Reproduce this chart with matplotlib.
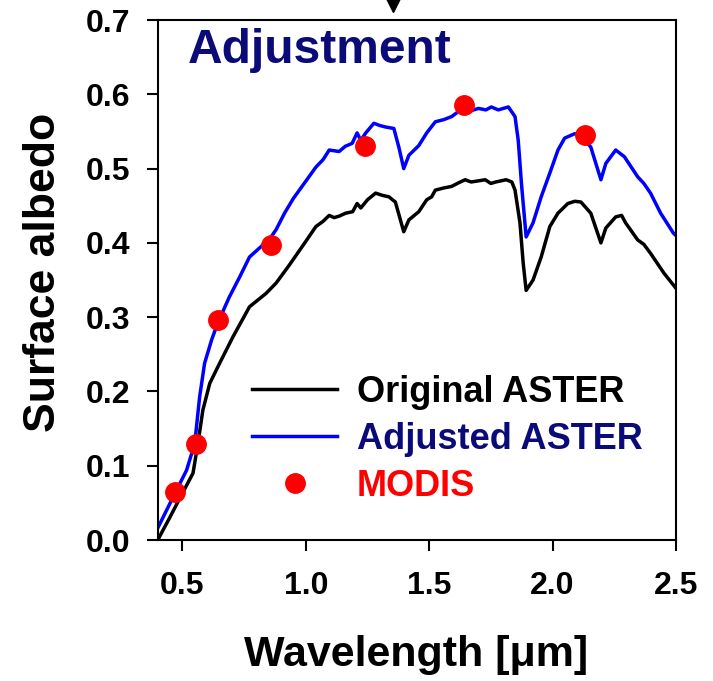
import numpy as np
import matplotlib
matplotlib.use('Agg')
import matplotlib.pyplot as plt

plt.rcParams['font.family'] = ['Liberation Sans', 'DejaVu Sans']
plt.rcParams['font.weight'] = 'bold'

# original ASTER spectrum
wl_orig = [0.40, 0.45, 0.50, 0.543, 0.563, 0.583, 0.611, 0.651, 0.704, 0.772,
           0.839, 0.88, 0.933, 1.00, 1.041, 1.07, 1.095, 1.115, 1.135, 1.162,
           1.19, 1.208, 1.223, 1.25, 1.283, 1.31, 1.337, 1.363, 1.38, 1.397,
           1.418, 1.458, 1.49, 1.51, 1.525, 1.56, 1.591, 1.62, 1.646, 1.67,
           1.69, 1.727, 1.75, 1.77, 1.812, 1.835, 1.848, 1.868, 1.881, 1.893,
           1.921, 1.954, 1.989, 2.022, 2.062, 2.09, 2.115, 2.155, 2.196, 2.216,
           2.256, 2.28, 2.296, 2.345, 2.37, 2.397, 2.452, 2.50]
alb_orig = [0.000, 0.031, 0.063, 0.090, 0.130, 0.175, 0.211, 0.238, 0.273, 0.314,
            0.332, 0.346, 0.370, 0.402, 0.422, 0.429, 0.437, 0.434, 0.436, 0.440,
            0.442, 0.453, 0.447, 0.458, 0.467, 0.464, 0.462, 0.455, 0.435, 0.415,
            0.431, 0.442, 0.458, 0.462, 0.471, 0.474, 0.476, 0.481, 0.485, 0.482,
            0.483, 0.485, 0.480, 0.482, 0.485, 0.482, 0.471, 0.427, 0.373, 0.336,
            0.350, 0.381, 0.422, 0.440, 0.453, 0.456, 0.455, 0.440, 0.400, 0.420,
            0.435, 0.437, 0.427, 0.404, 0.398, 0.386, 0.359, 0.339]

# adjusted ASTER spectrum
wl_adj = [0.40, 0.47, 0.517, 0.55, 0.57, 0.59, 0.618, 0.643, 0.69, 0.732,
          0.772, 0.812, 0.853, 0.88, 0.914, 0.95, 1.00, 1.041, 1.07, 1.095,
          1.135, 1.16, 1.188, 1.208, 1.223, 1.243, 1.276, 1.3, 1.323, 1.357,
          1.377, 1.397, 1.418, 1.458, 1.49, 1.525, 1.56, 1.591, 1.64, 1.67,
          1.70, 1.73, 1.752, 1.78, 1.821, 1.848, 1.861, 1.874, 1.893, 1.921,
          1.954, 1.989, 2.022, 2.049, 2.09, 2.115, 2.155, 2.196, 2.216, 2.256,
          2.291, 2.345, 2.37, 2.397, 2.438, 2.49, 2.50]
alb_adj = [0.016, 0.063, 0.094, 0.130, 0.193, 0.238, 0.269, 0.292, 0.327, 0.354,
           0.381, 0.393, 0.405, 0.418, 0.440, 0.460, 0.483, 0.502, 0.512, 0.525,
           0.523, 0.530, 0.534, 0.548, 0.538, 0.548, 0.561, 0.558, 0.556, 0.554,
           0.529, 0.500, 0.518, 0.531, 0.548, 0.563, 0.566, 0.570, 0.582, 0.578,
           0.581, 0.579, 0.583, 0.579, 0.583, 0.570, 0.538, 0.480, 0.408, 0.427,
           0.462, 0.494, 0.525, 0.541, 0.547, 0.545, 0.529, 0.485, 0.507, 0.525,
           0.516, 0.489, 0.480, 0.467, 0.440, 0.413, 0.410]

# MODIS bands
wl_modis = [0.469, 0.555, 0.645, 0.858, 1.24, 1.64, 2.13]
alb_modis = [0.065, 0.129, 0.296, 0.397, 0.530, 0.585, 0.545]

navy = '#0a0a78'

fig = plt.figure(figsize=(7.13, 6.81), dpi=100)
ax = fig.add_axes([0.2212, 0.207, 0.7268, 0.7636])

ax.plot(wl_orig, alb_orig, color='black', lw=2.5, label='Original ASTER')
ax.plot(wl_adj, alb_adj, color='#0000ff', lw=2.5, label='Adjusted ASTER')
ax.plot(wl_modis, alb_modis, 'o', color='red', ms=14, label='MODIS')

# arrow head at the top (cut off)
ax.plot([1.352], [0.7214], marker='v', color='black', ms=11, clip_on=False)

ax.set_xlim(0.4, 2.5)
ax.set_ylim(0.0, 0.7)
ax.set_xticks([0.5, 1.0, 1.5, 2.0, 2.5])
ax.set_xticklabels(['0.5', '1.0', '1.5', '2.0', '2.5'])
ax.set_yticks(np.arange(0, 0.71, 0.1))
ax.set_yticklabels(['%.1f' % v for v in np.arange(0, 0.71, 0.1)])
ax.tick_params(direction='out', length=8, width=1.5, labelsize=23)
ax.tick_params(axis='y', pad=11.5)
ax.tick_params(axis='x', pad=14)
for s in ax.spines.values():
    s.set_linewidth(1.5)

ax.set_xlabel('Wavelength [μm]', fontsize=31, fontweight='bold')
ax.set_ylabel('Surface albedo', fontsize=32, fontweight='bold')
ax.xaxis.set_label_coords(0.498, -0.182)
ax.yaxis.set_label_coords(-0.181, 0.515)

ax.text(0.058, 0.917, 'Adjustment', transform=ax.transAxes, fontsize=34.5,
        fontweight='bold', color=navy)

ax.legend(loc='upper left', bbox_to_anchor=(0.182, 0.318), frameon=False,
          fontsize=26, handlelength=2.36, handletextpad=0.55, labelspacing=0.33,
          borderpad=0, borderaxespad=0, numpoints=1,
          labelcolor=['black', navy, 'red'])

fig.savefig('out.png', dpi=100)
